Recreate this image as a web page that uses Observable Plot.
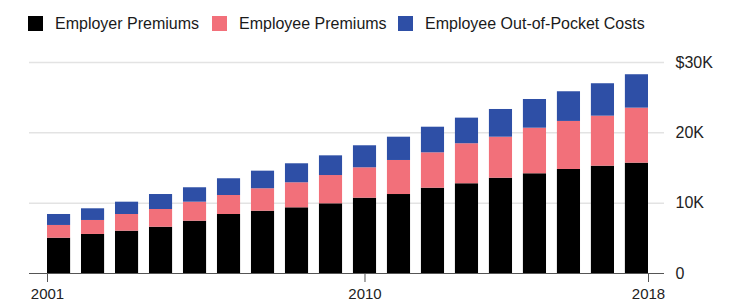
<!DOCTYPE html>
<html>
<head>
<meta charset="utf-8">
<script src="https://cdn.jsdelivr.net/npm/d3@7"></script>
<script src="https://cdn.jsdelivr.net/npm/@observablehq/plot@0.6"></script>
<style>
  html, body { margin: 0; padding: 0; background: #fff; }
  #legend { position: relative; height: 40px; font-family: "Liberation Sans", Arial, sans-serif; font-size: 16px; color: #1a1a1a; }
  .item { position: absolute; top: 16px; height: 15px; display: flex; align-items: center; white-space: nowrap; }
  .sw { width: 15px; height: 15px; margin-right: 12px; display: inline-block; flex: none; }
  #chart svg { display: block; }
</style>
</head>
<body>
<div id="legend"></div>
<div id="chart"></div>
<script>
const years = [2001,2002,2003,2004,2005,2006,2007,2008,2009,2010,2011,2012,2013,2014,2015,2016,2017,2018];
const employerPremiums = [5020,5550,6020,6580,7440,8390,8860,9340,9910,10710,11230,12130,12760,13550,14180,14790,15260,15690];
const employeePremiums = [1810,1990,2370,2520,2700,2700,3190,3560,4020,4320,4840,5030,5690,5830,6480,6830,7110,7820];
const outOfPocket = [1560,1660,1750,2130,2050,2380,2500,2700,2800,3130,3310,3640,3640,3940,4080,4220,4610,4750];
const seriesNames = ["Employer Premiums", "Employee Premiums", "Employee Out-of-Pocket Costs"];
const seriesColors = ["#000000", "#f2707a", "#2e4fa6"];
const yTicks = [0, 10000, 20000, 30000];
const xTickYears = [2001, 2010, 2018];

const seriesValues = [employerPremiums, employeePremiums, outOfPocket];
const rows = [];
years.forEach((yr, i) => {
  seriesNames.forEach((s, j) => rows.push({year: yr, series: s, value: seriesValues[j][i]}));
});

// legend
const legendLeft = [28, 212, 398];
const legend = document.getElementById("legend");
seriesNames.forEach((s, j) => {
  const it = document.createElement("div");
  it.className = "item";
  it.style.left = legendLeft[j] + "px";
  it.innerHTML = `<span class="sw" style="background:${seriesColors[j]}"></span><span>${s}</span>`;
  legend.appendChild(it);
});

const pad = 0.32;
const step = 601 / (18 - pad);
const bw = step * (1 - pad);
const fmtY = d => d === 0 ? "0" : (d === 30000 ? "$30K" : (d / 1000) + "K");

const chart = Plot.plot({
  width: 730,
  height: 261,
  marginLeft: 29,
  marginRight: 66,
  marginTop: 22,
  marginBottom: 28,
  style: {fontFamily: "'Liberation Sans', Arial, sans-serif", background: "#fff", overflow: "visible"},
  x: {type: "band", domain: years, range: [47, 648], paddingInner: pad, paddingOuter: 0, round: false, axis: null, label: null},
  y: {domain: [0, 30000], axis: null, label: null},
  color: {domain: seriesNames, range: seriesColors},
  marks: [
    Plot.ruleY(yTicks.filter(d => d > 0), {stroke: "#e3e3e3", strokeWidth: 1.5}),
    Plot.barY(rows, {x: "year", y: "value", fill: "series", order: seriesNames}),
    Plot.ruleY([0], {stroke: "#555", strokeWidth: 1}),
    Plot.axisY(yTicks, {anchor: "right", label: null, tickSize: 0, tickPadding: 11, tickFormat: fmtY, fontSize: 16, fill: "#222"}),
    Plot.axisX([xTickYears[0]], {label: null, tickSize: 9, tickPadding: 6, tickFormat: d => String(d), dx: -bw / 2, fontSize: 15, fill: "#222", stroke: "#555"}),
    Plot.axisX([xTickYears[1]], {label: null, tickSize: 9, tickPadding: 6, tickFormat: d => String(d), fontSize: 15, fill: "#222", stroke: "#555"}),
    Plot.axisX([xTickYears[2]], {label: null, tickSize: 9, tickPadding: 6, tickFormat: d => String(d), dx: bw / 2, fontSize: 15, fill: "#222", stroke: "#555"})
  ]
});
document.getElementById("chart").appendChild(chart);
</script>
</body>
</html>
